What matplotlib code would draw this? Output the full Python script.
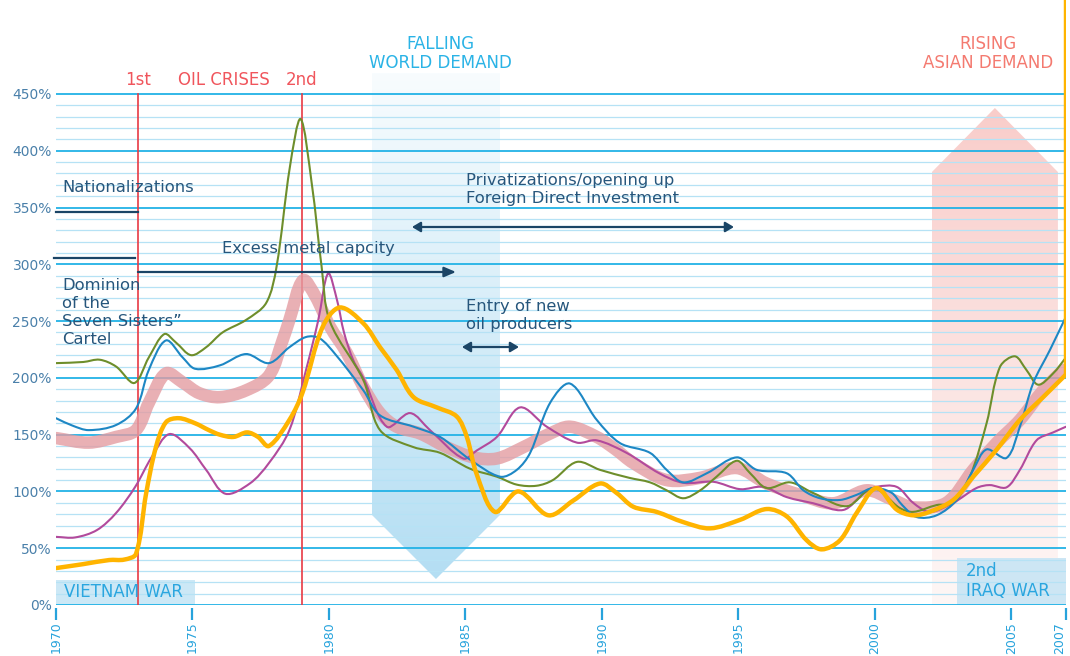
import numpy as np
import matplotlib
matplotlib.use("Agg")
import matplotlib.pyplot as plt
import matplotlib.transforms as mtransforms
from matplotlib.path import Path
from matplotlib.patches import PathPatch, Polygon, Rectangle
from matplotlib.colors import to_rgba

plt.rcParams['font.family'] = ['DejaVu Sans']

# ---------------- data ----------------
yel_x = [1970.0, 1971.0, 1971.95, 1972.5, 1972.93, 1973.3, 1973.66, 1974.03, 1974.5, 1975.1,
         1975.6, 1976.0, 1976.5, 1977.0, 1977.4, 1977.8, 1978.55, 1979.03, 1979.77, 1980.4,
         1981.26, 1981.87, 1982.48, 1983.1, 1983.95, 1984.68, 1985.05, 1985.4, 1986.08, 1986.94,
         1988.04, 1988.95, 1989.93, 1990.54, 1991.15, 1992.0, 1992.98, 1993.96, 1995.06, 1996.03,
         1996.77, 1997.5, 1998.05, 1998.72, 1999.33, 2000.06, 2000.8, 2001.4, 2002.0, 2002.87,
         2003.6, 2004.45, 2005.31, 2006.16, 2007.0]
yel_y = [32.5, 36, 39.6, 40, 45, 98, 139, 161, 164.5, 160,
         154, 150, 148, 152, 148, 140, 163, 187, 245, 262,
         248, 227, 207, 183, 174, 166, 148, 116, 82, 100,
         79, 92, 107, 98.6, 86.5, 82, 73, 67.5, 75, 84.5,
         78, 57, 49, 57, 81, 103, 84, 79, 82, 92.5,
         113, 136.5, 163, 183, 203]
yel_spike = 560  # yellow series leaves the chart at 2007

blu_x = [1970.0, 1970.6, 1971.2, 1972.2, 1972.93, 1973.4, 1974.03, 1974.64, 1975.1, 1976.0,
         1976.96, 1977.8, 1978.55, 1979.16, 1979.65, 1980.26, 1981.26, 1981.87, 1983.1, 1984.07,
         1985.17, 1986.27, 1986.88, 1987.37, 1988.1, 1988.83, 1989.81, 1990.66, 1991.76, 1992.37,
         1992.98, 1993.84, 1994.94, 1995.67, 1996.77, 1997.38, 1997.99, 1998.72, 1999.33, 1999.94,
         2000.6, 2001.0, 2001.52, 2002.26, 2002.99, 2003.6, 2004.09, 2004.82, 2005.31, 2005.8,
         2006.41, 2007.0]
blu_y = [164.5, 158, 154, 158.5, 173, 207, 233, 218, 208, 211,
         221, 213, 227, 236, 235, 220, 189, 167, 157, 148,
         128, 113, 119, 134, 178, 195, 163, 142.6, 134, 119,
         108, 116, 130, 119, 116, 101, 94, 92.5, 97, 103,
         99, 88, 77.5, 79, 92.5, 119, 137, 129.5, 157, 195.5,
         224.5, 254]

grn_x = [1970.0, 1971.0, 1971.6, 1972.2, 1972.87, 1973.4, 1973.97, 1974.4, 1974.95, 1975.5,
         1976.1, 1976.96, 1977.7, 1978.08, 1978.57, 1978.96, 1979.37, 1979.73, 1980.03, 1981.26,
         1981.87, 1983.1, 1984.07, 1985.17, 1986.15, 1986.88, 1987.6, 1988.2, 1989.08, 1989.93,
         1991.0, 1991.76, 1992.37, 1992.98, 1993.6, 1994.2, 1994.94, 1995.43, 1996.03, 1996.89,
         1997.74, 1998.97, 1999.94, 2000.91, 2001.4, 2002.26, 2002.87, 2003.48, 2004.09, 2004.58,
         2005.13, 2005.55, 2005.98, 2006.53, 2007.0]
grn_y = [213, 214, 216, 210, 195.5, 218, 238.6, 231, 220, 227,
         240, 251, 266, 298, 386, 428, 371, 298, 250, 198,
         154, 139, 134, 120, 113, 106, 105, 110, 126, 119,
         112, 108, 101, 94, 101, 113, 127, 116, 103, 108,
         98.6, 87, 103, 85.4, 82, 88, 90, 113, 160, 209.6,
         219, 207, 194, 204, 218]

mag_x = [1970.0, 1970.7, 1971.5, 1972.2, 1972.9, 1973.5, 1974.15, 1974.9, 1975.5, 1976.2,
         1977.1, 1977.8, 1978.55, 1979.16, 1979.6, 1979.97, 1980.3, 1980.55, 1980.9, 1981.26,
         1982.12, 1982.97, 1983.7, 1984.92, 1985.41, 1986.15, 1987.0, 1987.98, 1989.08, 1989.81,
         1990.9, 1992.1, 1992.98, 1994.08, 1995.06, 1995.9, 1996.77, 1997.74, 1998.84, 1999.6,
         2000.06, 2000.8, 2001.4, 2002.0, 2002.87, 2003.72, 2004.2, 2004.82, 2005.31, 2005.92,
         2006.53, 2007.0]
mag_y = [60, 59.5, 66, 81, 104, 130, 150.5, 138, 119, 98,
         107, 125, 154, 207, 250, 292, 268, 240, 215, 200,
         157, 169, 154, 129, 136, 148, 174, 157, 143, 145,
         134, 116, 107.6, 108.5, 102, 104, 95, 89.6, 83.7, 98.6,
         104, 104, 90, 82, 90, 103, 105.6, 103.6, 119, 145,
         152, 157]

avg_x = [1970.0, 1971.2, 1972.2, 1972.93, 1973.4, 1974.03, 1974.64, 1975.25, 1976.0, 1976.96,
         1977.8, 1978.3, 1978.55, 1979.05, 1979.5, 1980.04, 1980.65, 1981.26, 1981.87, 1982.48,
         1983.34, 1984.31, 1985.29, 1986.15, 1987.12, 1988.1, 1988.83, 1989.81, 1990.5, 1991.15,
         1992.37, 1993.6, 1994.94, 1996.03, 1997.26, 1998.48, 1999.7, 2000.67, 2001.4, 2002.62,
         2003.6, 2004.45, 2005.31, 2006.16, 2006.9]
avg_y = [147, 143, 148, 154, 178, 204, 196, 186.5, 183, 189,
         202, 233, 251, 286, 272, 245, 222, 192, 169, 157,
         151, 139, 130, 129, 139, 151, 157, 148, 137, 125,
         110, 112, 120.6, 107, 97, 89.6, 101, 92.5, 86, 90,
         119, 142.6, 163, 189, 207]

x_ticks = [1970, 1975, 1980, 1985, 1990, 1995, 2000, 2005, 2007]
y_ticks = [0, 50, 100, 150, 200, 250, 300, 350, 400, 450]
crisis_years = [1973, 1979]

# ---------------- layout ----------------
W, H = 1070, 656
PX_X = 27.3      # px per year
PX_Y = 1.13556   # px per percent
fig = plt.figure(figsize=(W / 100, H / 100), dpi=100)
ax = fig.add_axes([56 / W, (H - 605) / H, (1066 - 56) / W, 605 / H])
ax.set_xlim(1970, 2007)
ax.set_ylim(0, 605 / PX_Y)
for s in ax.spines.values():
    s.set_visible(False)

MAJ = '#22b2e6'
MIN = '#b6e2f5'
NAVY = '#1b4566'
TXT = '#26567c'


def px2y(p):
    return (605 - p) / PX_Y


def px2x(p):
    return 1970 + (p - 56) / PX_X


# gridlines
for v in range(0, 451, 10):
    if v % 50 == 0:
        ax.axhline(v, color=MAJ, lw=1.3, zorder=2)
    else:
        ax.axhline(v, color=MIN, lw=0.9, zorder=2)


# gradient shapes
def gradient_shape(verts, c_bottom, c_top, y0, y1, z):
    poly = Polygon(verts, closed=True, facecolor='none', edgecolor='none',
                   transform=ax.transData)
    ax.add_patch(poly)
    n = 256
    cb = np.array(to_rgba(c_bottom))
    ct = np.array(to_rgba(c_top))
    t = np.linspace(0, 1, n)[:, None]
    arr = (cb * (1 - t) + ct * t)[:, None, :]
    xs = [v[0] for v in verts]
    im = ax.imshow(arr, extent=[min(xs), max(xs), y0, y1], origin='lower',
                   aspect='auto', zorder=z, interpolation='bilinear')
    im.set_clip_path(poly)


fall_verts = [(px2x(372), px2y(73)), (px2x(500), px2y(73)), (px2x(500), px2y(515)),
              (px2x(436), px2y(579)), (px2x(372), px2y(515))]
gradient_shape(fall_verts, '#b4def3', '#f8fcfe', px2y(579), px2y(73), 0.5)

rise_verts = [(px2x(932), 0), (px2x(1058), 0), (px2x(1058), px2y(172)),
              (px2x(995), px2y(108)), (px2x(932), px2y(172))]
gradient_shape(rise_verts, '#fef7f6', '#f9cdca', 0, px2y(108), 0.5)

# war boxes
ax.add_patch(Rectangle((1970, 0), px2x(195) - 1970, px2y(580), facecolor='#cce8f6',
                       edgecolor='none', zorder=1))
ax.add_patch(Rectangle((px2x(957), 0), 2007 - px2x(957), px2y(558), facecolor='#cde6f4',
                       edgecolor='none', zorder=1))

# crisis lines
for yr in crisis_years:
    ax.plot([yr, yr], [0, 450], color='#e83a44', lw=1.2, zorder=3)


# smooth curves
def smooth_path(xs, ys):
    P = np.column_stack([np.asarray(xs, float) * PX_X, np.asarray(ys, float) * PX_Y])
    d = np.sqrt(((P[1:] - P[:-1]) ** 2).sum(1))
    d = np.maximum(d, 1e-6)
    t = np.concatenate([[0], np.cumsum(d)])
    n = len(P)
    T = np.zeros_like(P)
    T[1:-1] = (P[2:] - P[:-2]) / (t[2:] - t[:-2])[:, None]
    T[0] = (P[1] - P[0]) / d[0]
    T[-1] = (P[-1] - P[-2]) / d[-1]
    verts = [P[0]]
    codes = [Path.MOVETO]
    for i in range(n - 1):
        h = d[i]
        verts += [P[i] + T[i] * h / 3, P[i + 1] - T[i + 1] * h / 3, P[i + 1]]
        codes += [Path.CURVE4] * 3
    V = np.array(verts)
    V[:, 0] /= PX_X
    V[:, 1] /= PX_Y
    return Path(V, codes)


def curve(xs, ys, color, lw, z, alpha=1.0):
    ax.add_patch(PathPatch(smooth_path(xs, ys), facecolor='none', edgecolor=color,
                           lw=lw, alpha=alpha, zorder=z, capstyle='round',
                           joinstyle='round'))


curve(avg_x, avg_y, '#e49ca2', 9, 4, alpha=0.8)
curve(mag_x, mag_y, '#b24a9c', 1.5, 5)
curve(grn_x, grn_y, '#6e8e2b', 1.5, 5)
curve(blu_x, blu_y, '#1d87c4', 1.5, 5)
curve(yel_x, yel_y, '#ffb400', 3.2, 6)
ax.plot([yel_x[-1], yel_x[-1]], [yel_y[-1], yel_spike], color='#ffb400', lw=3.2,
        zorder=6, solid_capstyle='butt')

# axes ticks
ax.set_yticks(y_ticks)
ax.set_yticklabels([f"{v}%" for v in y_ticks], fontsize=10, color='#4a80aa')
ax.tick_params(axis='y', length=0, pad=3)
ax.set_xticks(x_ticks)
ax.set_xticklabels([str(v) for v in x_ticks], rotation=90, fontsize=9, color='#27a3dc')
ax.tick_params(axis='x', length=0, pad=12)
# keep the last label (at the right edge) inside the picture
last = ax.get_xticklabels()[-1]
last.set_transform(last.get_transform() +
                   mtransforms.ScaledTranslation(-6 / 100, 0, fig.dpi_scale_trans))
ax.vlines(x_ticks, px2y(608), px2y(620), color='#27a3dc', lw=1.6, clip_on=False, zorder=3)

# annotations
FS = 11.8
ax.text(1973.0, px2y(80), '1st', color='#f0555c', fontsize=12, ha='center', va='center')
ax.text(px2x(224), px2y(80), 'OIL CRISES', color='#f0555c', fontsize=12, ha='center', va='center')
ax.text(1979.0, px2y(80), '2nd', color='#f0555c', fontsize=12, ha='center', va='center')
ax.text(px2x(440), px2y(44), 'FALLING', color='#2ab3e6', fontsize=12, ha='center', va='center')
ax.text(px2x(440), px2y(63), 'WORLD DEMAND', color='#2ab3e6', fontsize=12, ha='center', va='center')
ax.text(px2x(988), px2y(44), 'RISING', color='#f47a70', fontsize=12, ha='center', va='center')
ax.text(px2x(988), px2y(63), 'ASIAN DEMAND', color='#f47a70', fontsize=12, ha='center', va='center')

ax.text(px2x(62), px2y(188), 'Nationalizations', color=TXT, fontsize=FS, va='center', zorder=7)
for i, line in enumerate(['Dominion', 'of the', 'Seven Sisters\u201d', 'Cartel']):
    ax.text(px2x(62), px2y(285 + 18 * i), line, color=TXT, fontsize=FS, va='center', zorder=7)
ax.text(px2x(222), px2y(249), 'Excess metal capcity', color=TXT, fontsize=FS, va='center', zorder=7)
ax.text(px2x(466), px2y(180), 'Privatizations/opening up', color=TXT, fontsize=FS, va='center', zorder=7)
ax.text(px2x(466), px2y(198), 'Foreign Direct Investment', color=TXT, fontsize=FS, va='center', zorder=7)
ax.text(px2x(466), px2y(307), 'Entry of new', color=TXT, fontsize=FS, va='center', zorder=7)
ax.text(px2x(466), px2y(324), 'oil producers', color=TXT, fontsize=FS, va='center', zorder=7)

ax.text(px2x(64), px2y(592), 'VIETNAM WAR', color='#2aa6df', fontsize=12, va='center', zorder=7)
ax.text(px2x(966), px2y(571), '2nd', color='#2aa6df', fontsize=12, va='center', zorder=7)
ax.text(px2x(966), px2y(591), 'IRAQ WAR', color='#2aa6df', fontsize=12, va='center', zorder=7)

# bars & arrows
ax.plot([px2x(56), 1973.0], [px2y(212)] * 2, color=NAVY, lw=1.6, clip_on=False, zorder=7)
ax.plot([px2x(54), px2x(135)], [px2y(258)] * 2, color=NAVY, lw=1.6, clip_on=False, zorder=7)
ax.annotate('', xy=(px2x(456), px2y(272)), xytext=(1973.0, px2y(272)),
            arrowprops=dict(arrowstyle='-|>,head_length=0.7,head_width=0.3', color=NAVY,
                            lw=1.6, shrinkA=0, shrinkB=0), zorder=7)
ax.annotate('', xy=(px2x(734), px2y(227)), xytext=(px2x(412), px2y(227)),
            arrowprops=dict(arrowstyle='<|-|>,head_length=0.5,head_width=0.3', color=NAVY,
                            lw=1.6, shrinkA=0, shrinkB=0), zorder=7)
ax.annotate('', xy=(px2x(519), px2y(347)), xytext=(px2x(462), px2y(347)),
            arrowprops=dict(arrowstyle='<|-|>,head_length=0.5,head_width=0.3', color=NAVY,
                            lw=1.6, shrinkA=0, shrinkB=0), zorder=7)

fig.savefig('out.png', dpi=100)
